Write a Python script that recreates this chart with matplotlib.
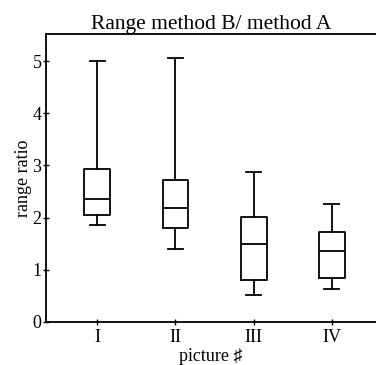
import matplotlib
matplotlib.use("Agg")
import matplotlib.pyplot as plt

pictures = ["I", "II", "III", "IV"]
whisker_low = [1.85, 1.40, 0.52, 0.64]
box_low = [2.06, 1.81, 0.80, 0.84]
medians = [2.35, 2.18, 1.49, 1.36]
box_high = [2.93, 2.73, 2.02, 1.72]
whisker_high = [5.00, 5.06, 2.87, 2.26]

plt.rcParams['font.family'] = ['Liberation Serif', 'DejaVu Serif']

stats = []
for i, name in enumerate(pictures):
    stats.append({"label": name, "whislo": whisker_low[i], "q1": box_low[i],
                  "med": medians[i], "q3": box_high[i], "whishi": whisker_high[i],
                  "fliers": []})

fig = plt.figure(figsize=(3.76, 3.65), dpi=100)
ax = fig.add_axes([45.7 / 376, 1 - 322 / 365, 1 - 45.7 / 376, (322 - 34) / 365])

lw = 1.3
ax.bxp(stats, positions=[1, 2, 3, 4], widths=0.33, capwidths=0.19, showfliers=False,
       boxprops=dict(color="black", linewidth=lw),
       whiskerprops=dict(color="black", linewidth=lw),
       capprops=dict(color="black", linewidth=lw),
       medianprops=dict(color="black", linewidth=lw))

ax.set_xlim(0.342, 4.564)
ax.set_ylim(0, 5.52)
ax.set_yticks([0, 1, 2, 3, 4, 5])
ax.set_xticks([1, 2, 3, 4])
ax.set_xticklabels(pictures)
ax.spines['right'].set_visible(False)
for s in ['left', 'top', 'bottom']:
    ax.spines[s].set_linewidth(1.3)
ax.tick_params(direction='inout', length=4, width=1, labelsize=13)
ax.tick_params(axis='x', pad=3)
ax.tick_params(axis='y', pad=1)

ax.set_title("Range method B/ method A", fontsize=15.5, pad=3)
ax.set_ylabel("range ratio", fontsize=13, labelpad=0)
ax.set_xlabel("picture \u266f", fontsize=13, labelpad=1.5)

fig.savefig("out.png", dpi=100)
